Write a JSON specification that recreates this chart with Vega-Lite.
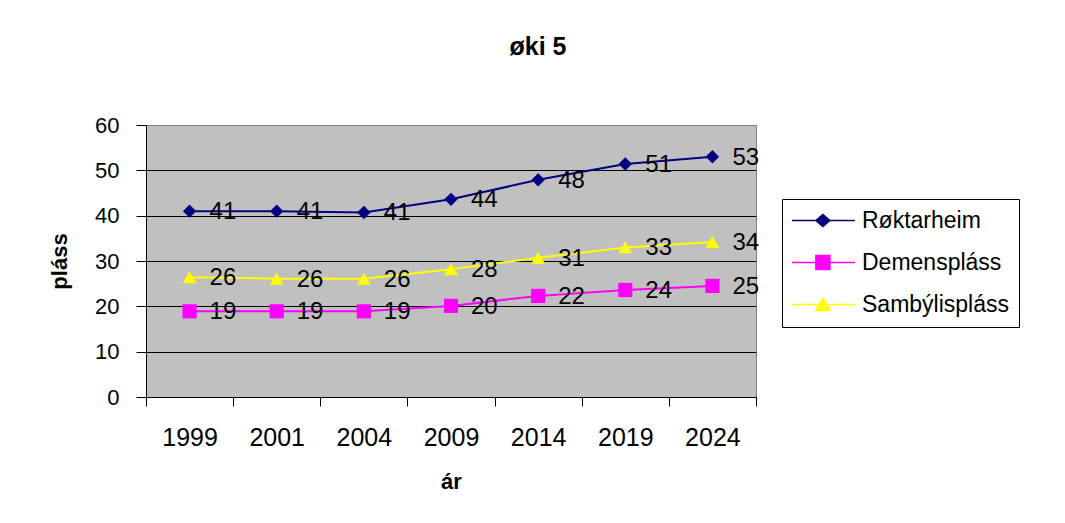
{
  "$schema": "https://vega.github.io/schema/vega-lite/v6.json",
  "width": 610,
  "height": 272,
  "autosize": {"type": "none"},
  "padding": {"left": 146, "top": 125, "right": 309, "bottom": 126},
  "background": "white",
  "title": {
    "text": "øki 5",
    "fontSize": 25,
    "fontWeight": "bold",
    "font": "Liberation Sans",
    "color": "black",
    "anchor": "middle",
    "dx": 87,
    "offset": 54
  },
  "data": {
    "values": [
      {"year": "1999", "series": "Røktarheim", "value": 41.0},
      {"year": "2001", "series": "Røktarheim", "value": 41.0},
      {"year": "2004", "series": "Røktarheim", "value": 40.7},
      {"year": "2009", "series": "Røktarheim", "value": 43.6},
      {"year": "2014", "series": "Røktarheim", "value": 47.9},
      {"year": "2019", "series": "Røktarheim", "value": 51.4},
      {"year": "2024", "series": "Røktarheim", "value": 53.0},
      {"year": "1999", "series": "Demenspláss", "value": 18.9},
      {"year": "2001", "series": "Demenspláss", "value": 18.9},
      {"year": "2004", "series": "Demenspláss", "value": 18.9},
      {"year": "2009", "series": "Demenspláss", "value": 20.1},
      {"year": "2014", "series": "Demenspláss", "value": 22.3},
      {"year": "2019", "series": "Demenspláss", "value": 23.6},
      {"year": "2024", "series": "Demenspláss", "value": 24.5},
      {"year": "1999", "series": "Sambýlispláss", "value": 26.4},
      {"year": "2001", "series": "Sambýlispláss", "value": 26.1},
      {"year": "2004", "series": "Sambýlispláss", "value": 26.1},
      {"year": "2009", "series": "Sambýlispláss", "value": 28.2},
      {"year": "2014", "series": "Sambýlispláss", "value": 30.7},
      {"year": "2019", "series": "Sambýlispláss", "value": 33.0},
      {"year": "2024", "series": "Sambýlispláss", "value": 34.2}
    ]
  },
  "encoding": {
    "x": {
      "field": "year",
      "type": "ordinal",
      "sort": null,
      "scale": {"type": "band", "paddingInner": 0, "paddingOuter": 0},
      "axis": {
        "title": "ár",
        "titleFontSize": 22,
        "titleFontWeight": "bold",
        "titlePadding": 21,
        "labelFontSize": 25,
        "labelAngle": 0,
        "labelPadding": 19,
        "tickBand": "extent",
        "tickSize": 9,
        "grid": false
      }
    },
    "y": {
      "field": "value",
      "type": "quantitative",
      "scale": {"domain": [0, 60], "nice": false},
      "axis": {
        "title": "pláss",
        "titleFontSize": 22,
        "titleFontWeight": "bold",
        "titlePadding": 23,
        "values": [0, 10, 20, 30, 40, 50, 60],
        "labelFontSize": 22,
        "labelPadding": 17,
        "tickSize": 10,
        "grid": true,
        "gridColor": {"condition": {"test": "datum.value === 60", "value": "#808080"}, "value": "black"},
        "gridOpacity": 1,
        "gridWidth": 1
      }
    },
    "color": {
      "field": "series",
      "type": "nominal",
      "scale": {
        "domain": ["Røktarheim", "Demenspláss", "Sambýlispláss"],
        "range": ["#000080", "#FF00FF", "#FFFF00"]
      },
      "legend": {
        "title": null,
        "orient": "none",
        "legendX": 636,
        "legendY": 74,
        "strokeColor": "black",
        "fillColor": "white",
        "padding": 10,
        "labelFontSize": 23,
        "labelFont": "Liberation Sans",
        "labelColor": "black",
        "labelOffset": 47,
        "rowPadding": 18,
        "symbolSize": 144,
        "symbolStrokeWidth": 1.5,
        "labelLimit": 300,
        "encode": {
          "symbols": {
            "update": {
              "shape": {"signal": "datum.value === 'Røktarheim' ? 'M-1.93,0H8.57M2.06,0L3.23,-1L4.4,0L3.23,1Z' : datum.value === 'Demenspláss' ? 'M-1.93,0H8.57M2.06,-1.17H4.4V1.17H2.06Z' : 'M-1.93,0H8.57M3.23,-1.05L4.43,1L2.03,1Z'"},
              "fill": {"scale": "color", "field": "value"},
              "stroke": {"scale": "color", "field": "value"},
              "strokeWidth": {"value": 1.5},
              "opacity": {"value": 1},
              "size": {"value": 144}
            }
          }
        }
      }
    }
  },
  "layer": [
    {
      "mark": {"type": "line", "strokeWidth": 2}
    },
    {
      "transform": [{"filter": "datum.series === 'Røktarheim'"}],
      "mark": {"type": "point", "filled": true, "opacity": 1, "shape": "diamond", "size": 180}
    },
    {
      "transform": [{"filter": "datum.series === 'Demenspláss'"}],
      "mark": {"type": "point", "filled": true, "opacity": 1, "shape": "square", "size": 200}
    },
    {
      "transform": [{"filter": "datum.series === 'Sambýlispláss'"}],
      "mark": {"type": "point", "filled": true, "opacity": 1, "shape": "triangle-up", "size": 190}
    },
    {
      "mark": {
        "type": "text",
        "align": "left",
        "baseline": "middle",
        "dx": 20,
        "dy": 1,
        "fontSize": 24,
        "font": "Liberation Sans",
        "color": "black"
      },
      "encoding": {
        "text": {"field": "value", "type": "quantitative", "format": ".0f"},
        "color": {"value": "black"}
      }
    }
  ],
  "config": {
    "font": "Liberation Sans",
    "view": {"fill": "#C0C0C0", "stroke": "#808080", "strokeWidth": 1},
    "axis": {
      "domainColor": "black",
      "tickColor": "black",
      "labelColor": "black",
      "titleColor": "black",
      "labelFont": "Liberation Sans",
      "titleFont": "Liberation Sans",
      "domainWidth": 1,
      "tickWidth": 1
    }
  }
}
